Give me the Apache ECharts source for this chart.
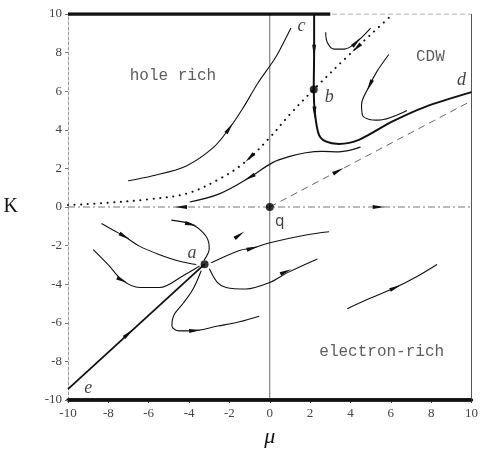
<!DOCTYPE html>
<html>
<head>
<meta charset="utf-8">
<script src="https://cdn.jsdelivr.net/npm/echarts@6/dist/echarts.min.js"></script>
<style>
html,body{margin:0;padding:0;background:#fff;}
#chart{width:481px;height:453px;}
</style>
</head>
<body>
<div id="chart"></div>
<script>
// Axis ranges and tick labels
const muRange = [-10, 10];
const kRange = [-10, 10];
const tickStep = 2;

// Fixed points of the flow
const fixedPoints = [[0, 0], [-3.23, -2.96], [2.18, 6.09]];
const pointNames = ['c', 'b', 'd', 'a', 'e'];
const pointNamePos = [[1.57, 9.35], [2.95, 5.7], [9.5, 6.55], [-3.85, -2.4], [-9.0, -9.4]];
const qName = ['q'];
const qNamePos = [[0.5, -0.8]];

// Phase region names
const regionNames = ['hole rich', 'CDW', 'electron-rich'];
const regionPos = [[-4.8, 6.8], [7.96, 7.79], [5.55, -7.5]];

// Phase boundaries
const topBoundary = [[-10, 10], [3.0, 10]];
const bottomBoundary = [[-10, -10], [10, -10]];
const lineCBD = [[2.2, 10], [2.2, 8], [2.18, 6.09], [2.25, 4.76], [2.44, 3.74], [2.77, 3.4],
  [3.43, 3.27], [4.42, 3.48], [6.06, 4.42], [7.71, 5.19], [10, 5.95]];
const lineEA = [[-10, -9.44], [-3.23, -2.96]];
const separatrix = [[-10, 0.1], [-8, 0.22], [-6, 0.4], [-4.1, 0.7], [-2.5, 1.45], [-1.2, 2.35],
  [0, 3.6], [1, 4.8], [2.18, 6.09], [4, 7.95], [5.9, 9.8]];
const dashedRay = [[0, 0], [10, 5.5]];

// Flow trajectories
const flowHole = [[-7.02, 1.36], [-5.8, 1.62], [-4.14, 2.13], [-2.82, 3.06], [-2.0, 4.08],
  [-1.34, 5.1], [-0.6, 6.4], [0.2, 7.6], [0.47, 8.08], [1.05, 9.27]];
const flowTop = [[2.77, 9.05], [2.86, 8.51], [3.19, 8.18], [3.68, 8.18], [4.26, 8.51], [5.0, 9.27]];
const flowCDW = [[5.9, 7.9], [5.3, 7.0], [4.9, 6.2], [4.55, 5.3], [4.6, 4.75], [4.9, 4.55],
  [5.4, 4.5], [6.8, 5.0]];
const flowMid = [[-3.97, 0.26], [-2.5, 0.68], [-1.0, 1.53], [0.14, 2.3], [1.0, 2.62], [1.79, 2.81],
  [2.6, 2.88], [3.43, 2.86], [4.5, 3.1]];
const flowA1 = [[-8.34, -0.85], [-7.77, -1.19], [-7.19, -1.53], [-6.44, -2.04], [-5.46, -2.47],
  [-4.47, -2.81], [-3.64, -2.98]];
const flowA2 = [[-8.75, -2.21], [-8.0, -3.0], [-7.27, -3.83], [-6.44, -4.17], [-5.46, -4.17],
  [-4.31, -3.57], [-3.48, -3.06]];
const flowA3 = [[-4.88, -0.68], [-3.81, -0.93], [-3.15, -1.53], [-3.0, -2.15], [-3.25, -2.75]];
const flowA4 = [[-3.4, -3.3], [-3.8, -4.25], [-4.3, -5.0], [-4.75, -5.6], [-4.85, -6.15],
  [-4.5, -6.42], [-3.81, -6.41], [-2.58, -6.17], [-1.5, -5.95], [-0.52, -5.66]];
const flowA5 = [[-2.99, -3.2], [-2.6, -3.9], [-2.16, -4.17], [-1.18, -4.25], [0, -3.91],
  [0.88, -3.4], [2.36, -2.69]];
const flowA6 = [[-2.9, -2.89], [-1.5, -2.25], [-0.85, -2.13], [0.06, -1.84], [1.79, -1.45], [2.94, -1.28]];
const flowElectron = [[3.84, -5.27], [5.0, -4.72], [6.23, -4.17], [7.3, -3.6], [8.29, -2.98]];

// Flow direction arrows: [mu, K, dMu, dK]
const arrows = [
  [-2.0, 4.08, 0.66, 1.0],
  [-1.0, 2.55, -1, -1],
  [4.3, 8.24, -1, -1],
  [2.2, 8.1, 0, -1],
  [2.22, 4.9, 0.01, -1],
  [4.3, 8.55, 0.7, 0.75],
  [4.95, 6.3, -0.4, -0.9],
  [-1.0, 1.53, -1.5, -0.85],
  [3.4, 1.87, 1, 0.55],
  [-4.4, 0, -1, 0],
  [5.4, 0, 1, 0],
  [-7.19, -1.53, 1.3, -0.8],
  [-7.3, -3.8, 1, -0.5],
  [-3.9, -0.9, 1, -0.25],
  [-3.7, -6.4, 1, 0.08],
  [0.8, -3.35, 1, 0.45],
  [-0.85, -2.13, 1, 0.3],
  [-1.5, -1.45, 1, 0.75],
  [6.23, -4.17, 1, 0.5],
  [-7.0, -6.55, 1, 0.95]
];

// Reference lines through the origin and the frame edges
const zeroK = [[-10, 0], [10, 0]];
const zeroMu = [[0, -10], [0, 10]];
const frameTop = [[-10, 10], [10, 10]];
const frameRight = [[10, -10], [10, 10]];

const ink = '#111';
const serif = 'Liberation Serif';

function curve(data, width, extra) {
  return Object.assign({
    type: 'line', data: data, symbol: 'none', silent: true, smooth: 0.35,
    lineStyle: { color: ink, width: width }, z: 3
  }, extra || {});
}

const chart = echarts.init(document.getElementById('chart'), null, { renderer: 'canvas' });
chart.setOption({
  backgroundColor: '#fff',
  animation: false,
  grid: { left: 68, right: 8, top: 14, bottom: 47 },
  xAxis: {
    type: 'value', min: muRange[0], max: muRange[1], interval: tickStep,
    name: 'μ', nameLocation: 'middle', nameGap: 26,
    nameTextStyle: { fontFamily: serif, fontStyle: 'italic', fontSize: 22, color: ink },
    axisLine: { onZero: false, lineStyle: { color: ink, width: 3.5 } },
    axisTick: { length: 3, lineStyle: { color: '#444' } },
    axisLabel: { margin: 7, fontFamily: serif, fontSize: 13, color: '#444' },
    splitLine: { show: false }
  },
  yAxis: {
    type: 'value', min: kRange[0], max: kRange[1], interval: tickStep,
    name: 'K', nameLocation: 'middle', nameGap: 50, nameRotate: 0,
    nameTextStyle: { fontFamily: serif, fontSize: 20, color: ink },
    axisLine: { onZero: false, lineStyle: { color: '#999', width: 1, type: [3, 2] } },
    axisTick: { length: 3, lineStyle: { color: '#777' } },
    axisLabel: { margin: 6, fontFamily: serif, fontSize: 13, color: '#444' },
    splitLine: { show: false }
  },
  series: [
    curve(frameTop, 1, { smooth: false, lineStyle: { color: '#999', width: 1, type: [5, 3] }, z: 1 }),
    curve(frameRight, 1, { smooth: false, lineStyle: { color: '#555', width: 1 }, z: 1 }),
    curve(zeroK, 1, { smooth: false, lineStyle: { color: '#777', width: 1, type: [7, 3, 2, 3] }, z: 1 }),
    curve(zeroMu, 1, { smooth: false, lineStyle: { color: '#666', width: 1 }, z: 1 }),
    curve(topBoundary, 3.5, { smooth: false }),
    curve(bottomBoundary, 3.5, { smooth: false }),
    curve(lineCBD, 2, { smooth: 0.3 }),
    curve(lineEA, 1.8, { smooth: false }),
    curve(separatrix, 2, { lineStyle: { color: ink, width: 2, type: [0.1, 6.5], cap: 'round' } }),
    curve(dashedRay, 1, { smooth: false, lineStyle: { color: '#666', width: 1, type: [7, 5] } }),
    curve(flowHole, 1.1),
    curve(flowTop, 1.1),
    curve(flowCDW, 1.1),
    curve(flowMid, 1.2),
    curve(flowA1, 1.1),
    curve(flowA2, 1.1),
    curve(flowA3, 1.1),
    curve(flowA4, 1.1),
    curve(flowA5, 1.1),
    curve(flowA6, 1.1),
    curve(flowElectron, 1.1),
    {
      type: 'custom', data: arrows, silent: true, z: 5,
      encode: { x: 0, y: 1 },
      renderItem: function (params, api) {
        const x = api.value(0), y = api.value(1);
        const p0 = api.coord([x, y]);
        const p1 = api.coord([x + api.value(2), y + api.value(3)]);
        let ux = p1[0] - p0[0], uy = p1[1] - p0[1];
        const len = Math.hypot(ux, uy) || 1;
        ux /= len; uy /= len;
        const nx = -uy, ny = ux, L = 12, W = 4;
        return {
          type: 'polygon',
          shape: { points: [
            [p0[0] + ux * L / 2, p0[1] + uy * L / 2],
            [p0[0] - ux * L / 2 + nx * W / 2, p0[1] - uy * L / 2 + ny * W / 2],
            [p0[0] - ux * L / 2 - nx * W / 2, p0[1] - uy * L / 2 - ny * W / 2]
          ] },
          style: { fill: ink }
        };
      }
    },
    {
      type: 'scatter', data: fixedPoints, symbol: 'circle', symbolSize: 8, silent: true, z: 6,
      itemStyle: { color: '#000' }
    },
    {
      type: 'scatter', silent: true, symbolSize: 0, z: 6,
      data: pointNamePos.map((p, i) => ({ value: p, name: pointNames[i] })),
      label: { show: true, position: 'inside', formatter: '{b}', fontFamily: serif,
        fontStyle: 'italic', fontSize: 18, color: ink }
    },
    {
      type: 'scatter', silent: true, symbolSize: 0, z: 6,
      data: qNamePos.map((p, i) => ({ value: p, name: qName[i] })),
      label: { show: true, position: 'inside', formatter: '{b}', fontFamily: 'DejaVu Sans',
        fontSize: 15, color: ink }
    },
    {
      type: 'scatter', silent: true, symbolSize: 0, z: 6,
      data: regionPos.map((p, i) => ({ value: p, name: regionNames[i] })),
      label: {
        show: true, position: 'inside', formatter: '{b}', color: '#333',
        fontFamily: 'Liberation Mono', fontSize: 16
      }
    }
  ]
});
</script>
</body>
</html>
